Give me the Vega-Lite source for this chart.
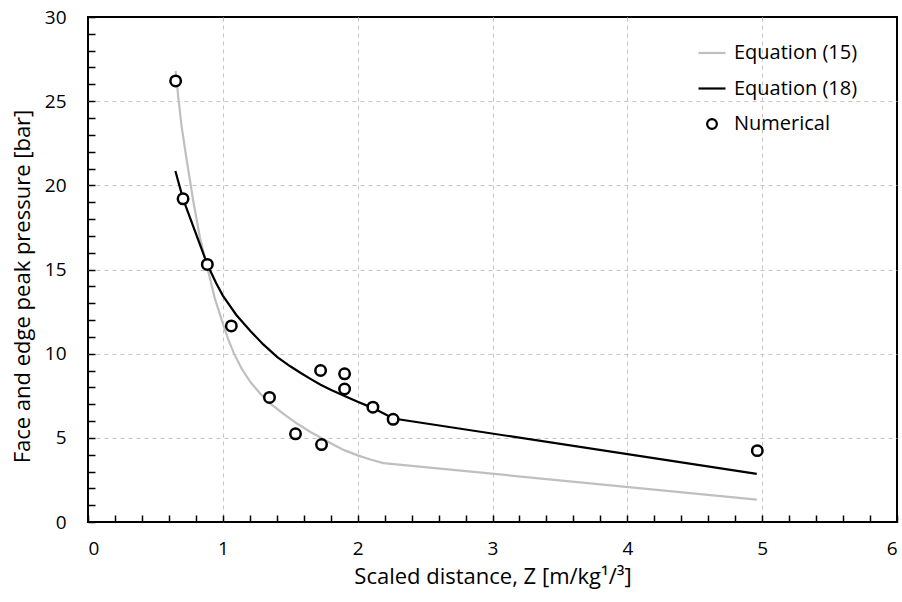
{
  "$schema": "https://vega.github.io/schema/vega-lite/v6.json",
  "width": 809,
  "height": 505,
  "autosize": "none",
  "padding": {"left": 88, "top": 17, "right": 5, "bottom": 80},
  "background": "white",
  "config": {
    "font": "Open Sans",
    "view": {"stroke": "black", "strokeWidth": 2},
    "axis": {
      "domain": false,
      "tickColor": "black",
      "tickWidth": 1.5,
      "tickSize": -7,
      "labelColor": "black",
      "labelFontSize": 19,
      "labelOverlap": false,
      "titleColor": "black",
      "titleFontSize": 22,
      "titleFontWeight": "normal",
      "gridColor": "#c4c4c4",
      "gridDash": [4, 4],
      "gridWidth": 1
    }
  },
  "datasets": {
    "lines": [
      {"z": 0.65, "p": 26.8, "series": "Equation (15)"},
      {"z": 0.67, "p": 25.2, "series": "Equation (15)"},
      {"z": 0.695, "p": 23.46, "series": "Equation (15)"},
      {"z": 0.732, "p": 21.5, "series": "Equation (15)"},
      {"z": 0.78, "p": 19.1, "series": "Equation (15)"},
      {"z": 0.83, "p": 16.9, "series": "Equation (15)"},
      {"z": 0.885, "p": 15.1, "series": "Equation (15)"},
      {"z": 0.94, "p": 13.3, "series": "Equation (15)"},
      {"z": 1.0, "p": 11.8, "series": "Equation (15)"},
      {"z": 1.04, "p": 10.85, "series": "Equation (15)"},
      {"z": 1.083, "p": 10.0, "series": "Equation (15)"},
      {"z": 1.14, "p": 9.1, "series": "Equation (15)"},
      {"z": 1.206, "p": 8.3, "series": "Equation (15)"},
      {"z": 1.28, "p": 7.6, "series": "Equation (15)"},
      {"z": 1.35, "p": 7.05, "series": "Equation (15)"},
      {"z": 1.45, "p": 6.42, "series": "Equation (15)"},
      {"z": 1.55, "p": 5.85, "series": "Equation (15)"},
      {"z": 1.65, "p": 5.35, "series": "Equation (15)"},
      {"z": 1.75, "p": 4.9, "series": "Equation (15)"},
      {"z": 1.825, "p": 4.57, "series": "Equation (15)"},
      {"z": 1.9, "p": 4.27, "series": "Equation (15)"},
      {"z": 2.0, "p": 3.96, "series": "Equation (15)"},
      {"z": 2.1, "p": 3.7, "series": "Equation (15)"},
      {"z": 2.19, "p": 3.5, "series": "Equation (15)"},
      {"z": 4.96, "p": 1.33, "series": "Equation (15)"},
      {"z": 0.648, "p": 20.85, "series": "Equation (18)"},
      {"z": 0.705, "p": 19.2, "series": "Equation (18)"},
      {"z": 0.885, "p": 15.3, "series": "Equation (18)"},
      {"z": 0.95, "p": 14.2, "series": "Equation (18)"},
      {"z": 1.0, "p": 13.45, "series": "Equation (18)"},
      {"z": 1.1, "p": 12.3, "series": "Equation (18)"},
      {"z": 1.206, "p": 11.33, "series": "Equation (18)"},
      {"z": 1.3, "p": 10.55, "series": "Equation (18)"},
      {"z": 1.404, "p": 9.8, "series": "Equation (18)"},
      {"z": 1.5, "p": 9.25, "series": "Equation (18)"},
      {"z": 1.578, "p": 8.85, "series": "Equation (18)"},
      {"z": 1.65, "p": 8.5, "series": "Equation (18)"},
      {"z": 1.725, "p": 8.15, "series": "Equation (18)"},
      {"z": 1.8, "p": 7.85, "series": "Equation (18)"},
      {"z": 1.903, "p": 7.48, "series": "Equation (18)"},
      {"z": 2.0, "p": 7.15, "series": "Equation (18)"},
      {"z": 2.11, "p": 6.78, "series": "Equation (18)"},
      {"z": 2.265, "p": 6.15, "series": "Equation (18)"},
      {"z": 4.96, "p": 2.86, "series": "Equation (18)"}
    ],
    "num": [
      {"z": 0.65, "p": 26.2, "series": "Numerical"},
      {"z": 0.705, "p": 19.2, "series": "Numerical"},
      {"z": 0.885, "p": 15.3, "series": "Numerical"},
      {"z": 1.063, "p": 11.65, "series": "Numerical"},
      {"z": 1.346, "p": 7.4, "series": "Numerical"},
      {"z": 1.539, "p": 5.24, "series": "Numerical"},
      {"z": 1.725, "p": 9.0, "series": "Numerical"},
      {"z": 1.732, "p": 4.6, "series": "Numerical"},
      {"z": 1.903, "p": 8.8, "series": "Numerical"},
      {"z": 1.903, "p": 7.9, "series": "Numerical"},
      {"z": 2.113, "p": 6.82, "series": "Numerical"},
      {"z": 2.263, "p": 6.1, "series": "Numerical"},
      {"z": 4.964, "p": 4.24, "series": "Numerical"}
    ]
  },
  "encoding": {
    "x": {
      "field": "z",
      "type": "quantitative",
      "scale": {"domain": [0, 6], "nice": false, "zero": false},
      "axis": {
        "title": "Scaled distance, Z [m/kg¹/³]",
        "values": [0, 0.2, 0.4, 0.6, 0.8, 1, 1.2, 1.4, 1.6, 1.8, 2, 2.2, 2.4, 2.6, 2.8, 3, 3.2, 3.4, 3.6, 3.8, 4, 4.2, 4.4, 4.6, 4.8, 5, 5.2, 5.4, 5.6, 5.8, 6],
        "labelExpr": "datum.value % 1 === 0 ? format(datum.value, 'd') : ''",
        "labelPadding": 24,
        "titlePadding": 8,
        "gridOpacity": {"condition": {"test": "datum.value % 1 === 0 && datum.value > 0 && datum.value < 6", "value": 1}, "value": 0}
      }
    },
    "y": {
      "field": "p",
      "type": "quantitative",
      "scale": {"domain": [0, 30], "nice": false},
      "axis": {
        "title": "Face and edge peak pressure [bar]",
        "values": [0, 1, 2, 3, 4, 5, 6, 7, 8, 9, 10, 11, 12, 13, 14, 15, 16, 17, 18, 19, 20, 21, 22, 23, 24, 25, 26, 27, 28, 29, 30],
        "labelExpr": "datum.value % 5 === 0 ? format(datum.value, 'd') : ''",
        "labelPadding": 29,
        "titlePadding": 10,
        "titleY": 269,
        "gridOpacity": {"condition": {"test": "datum.value % 5 === 0 && datum.value > 0 && datum.value < 30", "value": 1}, "value": 0}
      }
    },
    "color": {
      "field": "series",
      "type": "nominal",
      "scale": {"domain": ["Equation (15)", "Equation (18)", "Numerical"], "range": ["#bfbfbf", "#000000", "#000000"]},
      "legend": {
        "title": null,
        "orient": "none",
        "legendX": 609,
        "legendY": 21,
        "padding": 0,
        "symbolSize": 729,
        "symbolType": "stroke",
        "symbolStrokeWidth": 2.2,
        "labelFontSize": 20,
        "labelColor": "black",
        "labelOffset": 7,
        "rowPadding": 10.5,
        "encode": {
          "symbols": {
            "update": {
              "shape": {"signal": "datum.value === 'Numerical' ? 'circle' : 'stroke'"},
              "size": {"signal": "datum.value === 'Numerical' ? 95 : 729"},
              "fill": {"signal": "datum.value === 'Numerical' ? 'white' : 'transparent'"},
              "stroke": {"signal": "datum.value === 'Equation (15)' ? '#bfbfbf' : 'black'"},
              "strokeWidth": {"value": 2.2},
              "opacity": {"value": 1}
            }
          }
        }
      }
    }
  },
  "layer": [
    {
      "data": {"name": "lines"},
      "mark": {"type": "line", "strokeWidth": 2.2},
      "encoding": {"detail": {"field": "series"}}
    },
    {
      "data": {"name": "num"},
      "mark": {"type": "point", "shape": "circle", "filled": false, "fill": "white", "size": 110, "strokeWidth": 2.5, "opacity": 1}
    }
  ]
}
